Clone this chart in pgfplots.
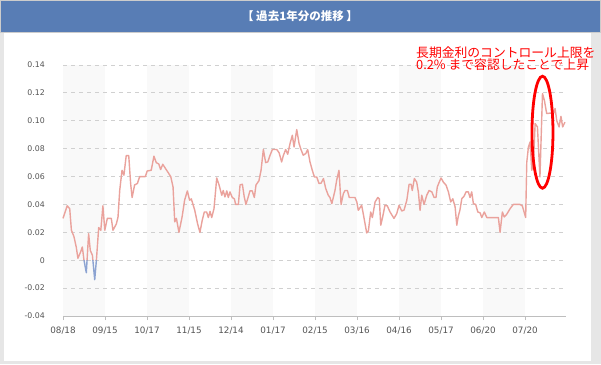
\documentclass[border=0pt]{standalone}
\usepackage{fontspec}
\setmainfont{DejaVu Sans}
\newfontfamily\cjk{Noto Sans CJK JP}
\usepackage{pgfplots}
\pgfplotsset{compat=1.18}
\usepackage{pgfplotstable}
\definecolor{linered}{RGB}{234,162,156}
\definecolor{lineblue}{RGB}{140,163,210}
\definecolor{titleblue}{RGB}{88,125,181}
\definecolor{band}{RGB}{249,249,249}
\definecolor{gridc}{RGB}{208,208,208}
\definecolor{axisc}{RGB}{190,190,190}
\definecolor{labc}{RGB}{85,85,85}
\definecolor{framec}{RGB}{230,230,230}

\pgfplotstableread{
x y
0 0.030
2.0 0.039
3.2 0.037
4.0 0.0215
5.2 0.017
6.3 0.0095
7.1 0.0014
8.4 0.006
9.2 0.0095
10.0 0.000
11.1 -0.009
12.2 0.019
13.0 0.007
14.0 0.0036
15.1 -0.014
15.9 0.000
17.0 0.0234
18.0 0.0215
19.0 0.039
19.9 0.0215
21.1 0.030
23.0 0.030
23.8 0.0215
25.4 0.026
26.2 0.031
27.0 0.050
28.1 0.0645
29.0 0.061
30.1 0.075
31.3 0.075
32.2 0.055
32.9 0.045
34.1 0.054
35.4 0.055
36.5 0.060
39.2 0.060
40.1 0.064
42.0 0.0645
43.3 0.0746
44.4 0.070
45.6 0.069
46.5 0.065
47.5 0.0688
48.7 0.066
50.0 0.063
51.3 0.060
52.4 0.0525
53.2 0.0275
54.0 0.030
55.2 0.020
56.7 0.031
57.9 0.043
59.2 0.0497
60.3 0.043
61.1 0.044
62.7 0.036
64.1 0.026
65.2 0.020
66.3 0.0287
67.3 0.0346
68.4 0.0346
69.2 0.0306
70.0 0.035
70.8 0.0306
71.9 0.037
73.2 0.059
74.3 0.054
75.6 0.0466
76.3 0.050
77.1 0.0454
78.0 0.0497
78.7 0.045
79.5 0.049
80.6 0.045
81.6 0.044
82.2 0.040
83.5 0.040
84.3 0.054
85.4 0.0545
86.3 0.0454
87.1 0.040
88.2 0.0454
89.0 0.0497
90.1 0.0497
91.1 0.045
91.9 0.054
93.3 0.057
94.3 0.0645
95.4 0.0794
96.5 0.070
97.5 0.0705
98.6 0.0753
99.7 0.0794
101.8 0.0794
102.9 0.077
104.1 0.0705
104.9 0.075
106.0 0.0794
107.0 0.076
108.1 0.0837
109.2 0.0896
110.0 0.0812
111.3 0.0937
112.4 0.0837
113.3 0.0794
114.4 0.0753
115.6 0.0765
116.5 0.0794
117.6 0.0705
118.7 0.0645
119.7 0.0597
120.8 0.0597
121.9 0.055
122.9 0.0553
124.0 0.0586
125.1 0.0514
126.3 0.0466
127.1 0.045
128.0 0.0406
129.5 0.050
130.3 0.0573
131.4 0.0645
132.4 0.040
133.5 0.0478
134.3 0.050
135.4 0.050
136.3 0.045
139.0 0.045
139.9 0.0418
140.6 0.0358
142.2 0.0394
143.0 0.033
144.6 0.0196
145.4 0.021
146.5 0.0346
147.3 0.0306
148.6 0.0418
149.9 0.045
150.6 0.044
151.3 0.0251
152.2 0.031
153.3 0.0394
154.4 0.039
155.7 0.0346
157.6 0.030
158.9 0.0334
160.0 0.0394
161.3 0.0353
162.4 0.036
163.7 0.043
164.8 0.0545
165.7 0.0545
166.3 0.050
167.3 0.0586
168.4 0.056
169.2 0.049
170.0 0.0358
170.8 0.0466
171.9 0.040
173.2 0.0466
174.3 0.050
175.6 0.049
176.7 0.045
177.6 0.045
178.2 0.0525
179.0 0.0555
180.0 0.059
181.1 0.056
182.4 0.0538
183.5 0.049
184.6 0.0418
185.6 0.044
186.7 0.0382
187.5 0.0251
188.2 0.0315
189.0 0.036
189.9 0.0442
191.0 0.046
191.9 0.049
193.0 0.049
193.8 0.045
194.6 0.049
195.4 0.0406
196.5 0.040
197.5 0.0346
198.6 0.034
199.4 0.0306
200.6 0.0346
201.8 0.0306
207.3 0.0306
208.1 0.020
209.2 0.0346
210.1 0.031
211.3 0.033
212.9 0.037
214.4 0.040
217.6 0.040
218.7 0.039
220.3 0.0306
220.8 0.070
221.6 0.0812
222.4 0.0848
223.2 0.0645
224.0 0.070
224.8 0.098
225.9 0.0956
227.1 0.0597
228.3 0.1195
229.2 0.1147
230.3 0.1052
231.9 0.1055
233.5 0.105
234.3 0.1088
235.1 0.100
236.2 0.0956
237.1 0.1032
237.9 0.0956
239.0 0.099
}\yields

\begin{document}
\begin{tikzpicture}
\useasboundingbox (0pt,0pt) rectangle (601pt,364pt);
% frame
\fill[framec] (0pt,0pt) rectangle (601pt,364pt);
\fill[white] (4pt,3pt) rectangle (591pt,332pt);
% title bar
\fill[titleblue, draw=gray!40] (0.5pt,332pt) rectangle (600.5pt,363.5pt);
\node[text=white, font=\cjk\bfseries\fontsize{11.5}{13}\selectfont, inner sep=0pt] at (300pt,347.5pt) {【 過去1年分の推移 】};
% alternating bands
\foreach \k in {0,...,5} {
  \fill[band] ({63+84.02*\k*1pt},48pt) rectangle ({105+84.02*\k*1pt},299pt);
}
\begin{axis}[
  at={(63pt,48pt)}, anchor=south west,
  scale only axis, width=503pt, height=251pt,
  xmin=0, xmax=239.5, ymin=-0.04, ymax=0.14,
  clip=false,
  axis x line*=bottom, axis y line*=left,
  y axis line style={draw=none},
  x axis line style={draw=axisc, line width=0.8pt, -},
  tick align=outside, major tick length=4pt,
  xtick={0,20,...,220},
  xticklabels={08/18,09/15,10/17,11/15,12/14,01/17,02/15,03/16,04/16,05/17,06/20,07/20},
  ytick={-0.04,-0.02,0,0.02,0.04,0.06,0.08,0.10,0.12,0.14},
  yticklabels={-0.04,-0.02,0,0.02,0.04,0.06,0.08,0.10,0.12,0.14},
  xtick style={draw=axisc, line width=0.8pt},
  ytick style={draw=none},
  xticklabel style={font=\fontsize{8.8}{10}\selectfont, text=labc, inner sep=0pt, yshift=-7pt},
  yticklabel style={font=\fontsize{7.8}{9}\selectfont, text=labc, inner sep=0pt, xshift=-14pt},
  ymajorgrids,
  major grid style={draw=gridc, dash pattern=on 4pt off 4pt, line width=0.8pt},
]
\begin{scope}
\clip (axis cs:-1,0) rectangle (axis cs:241,0.15);
\addplot[linered, line width=1.4pt, line join=round] table[x=x,y=y] {\yields};
\end{scope}
\begin{scope}
\clip (axis cs:-1,-0.05) rectangle (axis cs:241,0);
\addplot[lineblue, line width=1.4pt, line join=round] table[x=x,y=y] {\yields};
\end{scope}
\draw[red, line width=2.8pt] (axis cs:228.3,0.0918) ellipse [x radius=10.5pt, y radius=56pt];
\end{axis}
% annotation
\node[anchor=west, text=red, font=\cjk\fontsize{12.8}{13}\selectfont, inner sep=0pt] at (416pt,311.5pt) {長期金利のコントロール上限を};
\node[anchor=west, text=red, font=\cjk\fontsize{12.8}{13}\selectfont, inner sep=0pt] at (416pt,299pt) {0.2\% まで容認したことで上昇};
\end{tikzpicture}
\end{document}
